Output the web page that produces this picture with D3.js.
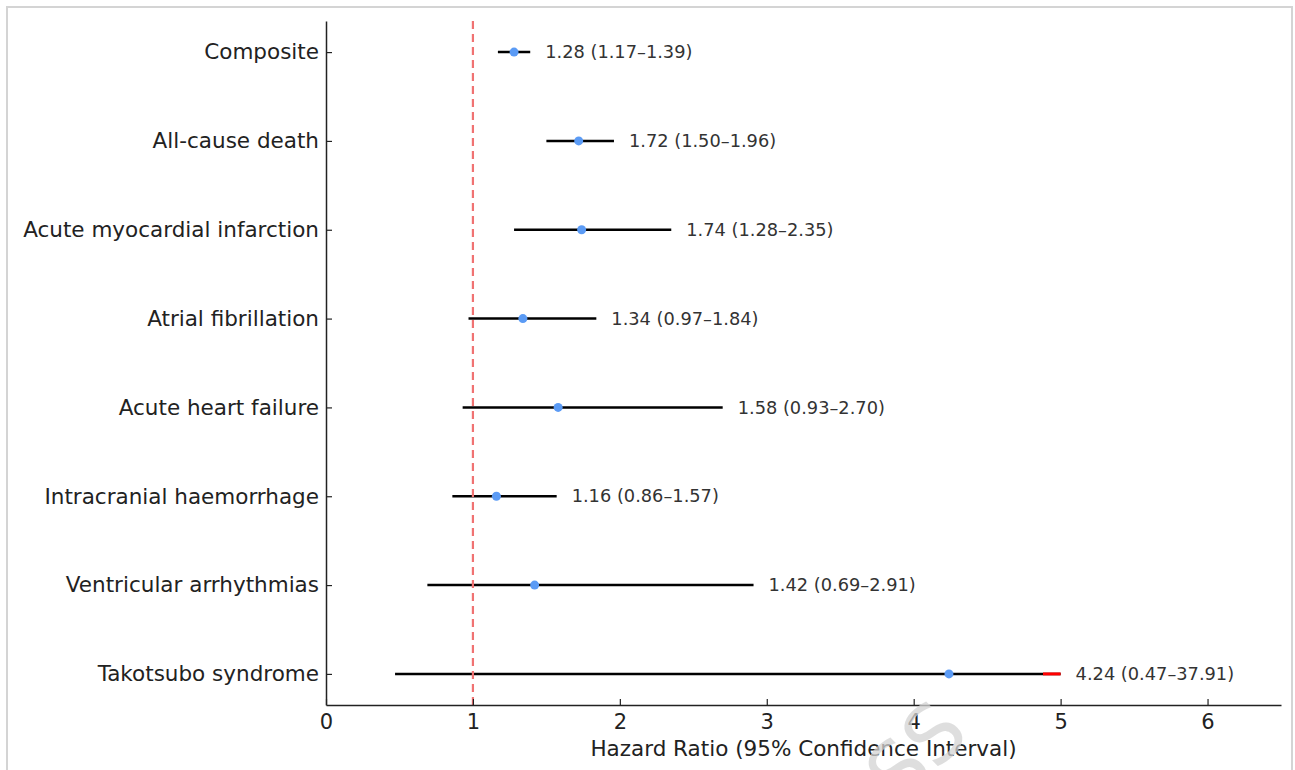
<!DOCTYPE html>
<html>
<head>
<meta charset="utf-8">
<script src="https://cdn.jsdelivr.net/npm/d3@7"></script>
<style>
  body { margin: 0; background: #fff; }
  text { font-family: "DejaVu Sans", sans-serif; }
</style>
</head>
<body>
<div id="chart"></div>
<script>
// outcomes, top to bottom
const outcomes = [
  "Composite",
  "All-cause death",
  "Acute myocardial infarction",
  "Atrial fibrillation",
  "Acute heart failure",
  "Intracranial haemorrhage",
  "Ventricular arrhythmias",
  "Takotsubo syndrome"
];
const hr    = [1.28, 1.72, 1.74, 1.34, 1.58, 1.16, 1.42, 4.24];
const lower = [1.17, 1.50, 1.28, 0.97, 0.93, 0.86, 0.69, 0.47];
const upper = [1.39, 1.96, 2.35, 1.84, 2.70, 1.57, 2.91, 37.91];
const xTicks = [0, 1, 2, 3, 4, 5, 6];
const xCap = 5;   // CIs beyond this are clipped, red tail shows the clip

const W = 1295, H = 770;
const plot = {left: 326, right: 1281, top: 21, bottom: 705};

const svg = d3.select("#chart").append("svg")
  .attr("width", W).attr("height", H);

// outer frame
svg.append("rect")
  .attr("x", 7).attr("y", 7)
  .attr("width", 1285).attr("height", 800)
  .attr("fill", "none").attr("stroke", "#d4d4d4").attr("stroke-width", 2);

const x = d3.scaleLinear().domain([0, 6.5]).range([plot.left, plot.right]);
const y = d3.scaleLinear().domain([-0.35, outcomes.length - 1 + 0.35]).range([plot.top, plot.bottom]);

const rows = outcomes.map((name, i) => ({
  name, i, hr: hr[i], lo: lower[i], hi: upper[i]
}));

// CI lines
svg.selectAll(".ci").data(rows).enter().append("line")
  .attr("x1", d => x(d.lo))
  .attr("x2", d => x(Math.min(d.hi, xCap)))
  .attr("y1", d => y(d.i)).attr("y2", d => y(d.i))
  .attr("stroke", "#000").attr("stroke-width", 2.5);

// red tail for clipped intervals
svg.selectAll(".clip").data(rows.filter(d => d.hi > xCap)).enter().append("line")
  .attr("x1", x(xCap - 0.12)).attr("x2", x(xCap))
  .attr("y1", d => y(d.i)).attr("y2", d => y(d.i))
  .attr("stroke", "#ff0000").attr("stroke-width", 3);

// reference line at HR = 1
svg.append("line")
  .attr("x1", x(1)).attr("x2", x(1))
  .attr("y1", plot.top).attr("y2", plot.bottom)
  .attr("stroke", "#f07272").attr("stroke-width", 2.2)
  .attr("stroke-dasharray", "8,5");

// point estimates
svg.selectAll(".pt").data(rows).enter().append("circle")
  .attr("cx", d => x(d.hr)).attr("cy", d => y(d.i))
  .attr("r", 4.5).attr("fill", "#5b9bf5");

// value labels
const fmt = d3.format(".2f");
svg.selectAll(".lbl").data(rows).enter().append("text")
  .attr("x", d => x(Math.min(d.hi, xCap)) + 15)
  .attr("y", d => y(d.i))
  .attr("dy", "0.35em")
  .style("font-size", "17.8px")
  .style("fill", "#333")
  .text(d => `${fmt(d.hr)} (${fmt(d.lo)}\u2013${fmt(d.hi)})`);

// x axis
const xAxis = svg.append("g")
  .attr("transform", `translate(0,${plot.bottom})`)
  .call(d3.axisBottom(x).tickValues(xTicks).tickFormat(d3.format("d"))
    .tickSizeInner(-6).tickSizeOuter(0).tickPadding(9));
xAxis.select(".domain").attr("stroke", "#222").attr("stroke-width", 1.5);
xAxis.selectAll(".tick line").attr("stroke", "#222").attr("stroke-width", 1.2);
xAxis.selectAll("text").style("font-size", "21px").style("fill", "#222");

// y axis
const yAxis = svg.append("g")
  .attr("transform", `translate(${plot.left},0)`)
  .call(d3.axisLeft(y).tickValues(d3.range(outcomes.length))
    .tickFormat(i => outcomes[i]).tickSizeInner(-6).tickSizeOuter(0).tickPadding(7));
yAxis.select(".domain").attr("stroke", "#222").attr("stroke-width", 1.5);
yAxis.selectAll(".tick line").attr("stroke", "#222").attr("stroke-width", 1.2);
yAxis.selectAll("text").style("font-size", "21.5px").style("fill", "#222");

svg.append("text")
  .attr("x", (plot.left + plot.right) / 2)
  .attr("y", 756)
  .attr("text-anchor", "middle")
  .style("font-size", "21.5px")
  .style("fill", "#222")
  .text("Hazard Ratio (95% Confidence Interval)");

// watermark, faint, on top of the axis text
svg.append("text")
  .attr("transform", "translate(916,752) rotate(-45)")
  .attr("text-anchor", "middle")
  .attr("dy", "0.35em")
  .style("font-size", "80px")
  .style("fill", "#d4d4d4")
  .style("opacity", 0.75)
  .text("SS");
</script>
</body>
</html>
